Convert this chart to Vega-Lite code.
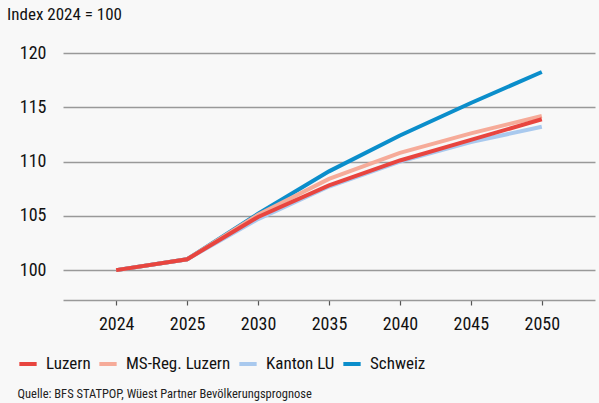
{
  "$schema": "https://vega.github.io/schema/vega-lite/v6.json",
  "width": 532,
  "height": 247,
  "autosize": {"type": "none"},
  "padding": {"left": 63, "top": 53, "right": 4, "bottom": 103},
  "background": "#f8f8f8",
  "title": {
    "text": "Index 2024 = 100",
    "anchor": "start",
    "frame": "group",
    "dx": -56,
    "offset": 20,
    "fontSize": 17,
    "fontWeight": "normal",
    "color": "#111111",
    "font": "Liberation Sans Narrow, Roboto Condensed, DejaVu Sans, sans-serif"
  },
  "config": {
    "view": {"stroke": null},
    "font": "Liberation Sans Narrow, Roboto Condensed, DejaVu Sans, sans-serif"
  },
  "data": {
    "values": [
      {"year": "2024", "region": "Kanton LU", "value": 100},
      {"year": "2025", "region": "Kanton LU", "value": 101.0},
      {"year": "2030", "region": "Kanton LU", "value": 104.7},
      {"year": "2035", "region": "Kanton LU", "value": 107.7},
      {"year": "2040", "region": "Kanton LU", "value": 110.0},
      {"year": "2045", "region": "Kanton LU", "value": 111.8},
      {"year": "2050", "region": "Kanton LU", "value": 113.2},
      {"year": "2024", "region": "Schweiz", "value": 100},
      {"year": "2025", "region": "Schweiz", "value": 101.0},
      {"year": "2030", "region": "Schweiz", "value": 105.2},
      {"year": "2035", "region": "Schweiz", "value": 109.1},
      {"year": "2040", "region": "Schweiz", "value": 112.4},
      {"year": "2045", "region": "Schweiz", "value": 115.4},
      {"year": "2050", "region": "Schweiz", "value": 118.25},
      {"year": "2024", "region": "MS-Reg. Luzern", "value": 100},
      {"year": "2025", "region": "MS-Reg. Luzern", "value": 101.0},
      {"year": "2030", "region": "MS-Reg. Luzern", "value": 105.1},
      {"year": "2035", "region": "MS-Reg. Luzern", "value": 108.4},
      {"year": "2040", "region": "MS-Reg. Luzern", "value": 110.8},
      {"year": "2045", "region": "MS-Reg. Luzern", "value": 112.6},
      {"year": "2050", "region": "MS-Reg. Luzern", "value": 114.2},
      {"year": "2024", "region": "Luzern", "value": 100},
      {"year": "2025", "region": "Luzern", "value": 101.0},
      {"year": "2030", "region": "Luzern", "value": 104.9},
      {"year": "2035", "region": "Luzern", "value": 107.8},
      {"year": "2040", "region": "Luzern", "value": 110.1},
      {"year": "2045", "region": "Luzern", "value": 112.0},
      {"year": "2050", "region": "Luzern", "value": 113.9}
    ]
  },
  "mark": {"type": "line", "strokeWidth": 4, "strokeCap": "butt", "strokeJoin": "miter"},
  "encoding": {
    "x": {
      "field": "year",
      "type": "ordinal",
      "sort": null,
      "scale": {"type": "point", "padding": 0.75},
      "axis": {
        "title": "Quelle: BFS STATPOP, Wüest Partner Bevölkerungsprognose",
        "titleFontSize": 12.5,
        "titleFontWeight": "normal",
        "titleColor": "#222222",
        "titleAnchor": "start",
        "titleAlign": "left",
        "titleX": -46,
        "titleY": 93,
        "titleBaseline": "middle",
        "labelAngle": 0,
        "labelFontSize": 18,
        "labelColor": "#111111",
        "labelPadding": 10,
        "domainColor": "#999999",
        "domainWidth": 1.5,
        "tickColor": "#555555",
        "tickSize": 5,
        "tickWidth": 1.2,
        "grid": false
      }
    },
    "y": {
      "field": "value",
      "type": "quantitative",
      "scale": {"domain": [97.25, 120], "nice": false, "zero": false},
      "axis": {
        "title": null,
        "values": [100, 105, 110, 115, 120],
        "labelFontSize": 18,
        "labelColor": "#111111",
        "labelPadding": 17,
        "ticks": false,
        "domain": false,
        "gridColor": "#999999",
        "gridWidth": 1.5
      }
    },
    "color": {
      "field": "region",
      "type": "nominal",
      "scale": {
        "domain": ["Luzern", "MS-Reg. Luzern", "Kanton LU", "Schweiz"],
        "range": ["#e8453f", "#f6ab99", "#a9c9ee", "#0b8ecb"]
      },
      "legend": {
        "title": null,
        "orient": "none",
        "direction": "horizontal",
        "legendX": -46,
        "legendY": 300,
        "symbolType": "stroke",
        "symbolSize": 300,
        "symbolStrokeWidth": 4,
        "labelFontSize": 17,
        "labelColor": "#111111",
        "labelOffset": 7,
        "columnPadding": 0
      }
    }
  }
}
